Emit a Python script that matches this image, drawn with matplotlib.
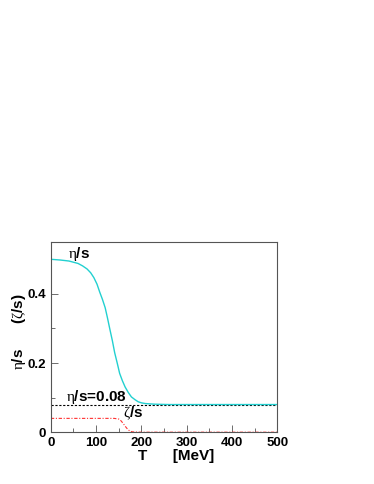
import matplotlib
matplotlib.use("Agg")
import matplotlib.pyplot as plt
from matplotlib.ticker import MultipleLocator

T_eta = [0, 20, 40, 60, 70, 80, 88, 95, 102, 108, 114, 120, 125, 130, 136, 141, 147, 152, 158, 164, 171, 178, 186, 193, 200, 208, 218, 230, 245, 260, 300, 400, 500]
eta_s = [0.5, 0.498, 0.495, 0.488, 0.481, 0.472, 0.461, 0.447, 0.428, 0.405, 0.384, 0.36, 0.331, 0.30, 0.264, 0.23, 0.198, 0.17, 0.149, 0.131, 0.115, 0.102, 0.094, 0.088, 0.085, 0.083, 0.082, 0.081, 0.0805, 0.08, 0.08, 0.08, 0.08]
T_zeta = [0, 100, 140, 150, 155, 160, 165, 170, 175, 180, 200, 300, 400, 500]
zeta_s = [0.04, 0.04, 0.04, 0.038, 0.033, 0.025, 0.016, 0.008, 0.003, 0.001, 0.0, 0.0, 0.0, 0.0]
kss = 0.08
xticks = [0, 100, 200, 300, 400, 500]
yticks = [0, 0.2, 0.4]
ytick_labels = ['0', '0.2', '0.4']

plt.rcParams['font.family'] = ['Liberation Sans', 'DejaVu Sans']
plt.rcParams['mathtext.fontset'] = 'custom'
plt.rcParams['mathtext.rm'] = 'Liberation Serif'
plt.rcParams['mathtext.it'] = 'Liberation Serif'
plt.rcParams['mathtext.bf'] = 'Liberation Serif'

fig = plt.figure(figsize=(3.74, 4.84), dpi=100)
ax = fig.add_axes([0.136, 0.107, 0.605, 0.393])

ax.plot([0, 500], [kss, kss], color='black', lw=0.8, ls=(0, (2, 1.5)))
ax.plot(T_eta, eta_s, color='#22d0d0', lw=1.0)
ax.plot(T_zeta, zeta_s, color='#ff3030', lw=0.8, ls=(0, (3, 1.5, 1, 1.5)))

ax.set_xlim(0, 500)
ax.set_ylim(0, 0.55)
ax.set_xticks(xticks)
ax.xaxis.set_minor_locator(MultipleLocator(50))
ax.set_yticks(yticks)
ax.set_yticklabels(ytick_labels)
ax.yaxis.set_minor_locator(MultipleLocator(0.1))
ax.tick_params(which='both', direction='in', labelsize=9.5, width=0.6, colors='#555555', labelcolor='black')
ax.tick_params(which='major', length=5)
ax.tick_params(which='minor', length=3)
for lab in ax.get_xticklabels() + ax.get_yticklabels():
    lab.set_fontweight('bold')
for sp in ax.spines.values():
    sp.set_linewidth(0.8)
    sp.set_color('#555555')

ax.text(37, 0.503, r'$\eta$/s', fontsize=11, fontweight='bold')
ax.text(33, 0.091, r'$\eta$/s=0.08', fontsize=11, fontweight='bold')
ax.text(160, 0.044, r'$\zeta$/s', fontsize=11, fontweight='bold')

ax.set_xlabel('T      [MeV]', fontsize=11, fontweight='bold')
ax.xaxis.set_label_coords(0.555, -0.09)
ax.set_ylabel(r'$\eta$/s      ($\zeta$/s)', fontsize=11, fontweight='bold')
ax.yaxis.set_label_coords(-0.10, 0.53)

fig.savefig('out.png', dpi=100)
